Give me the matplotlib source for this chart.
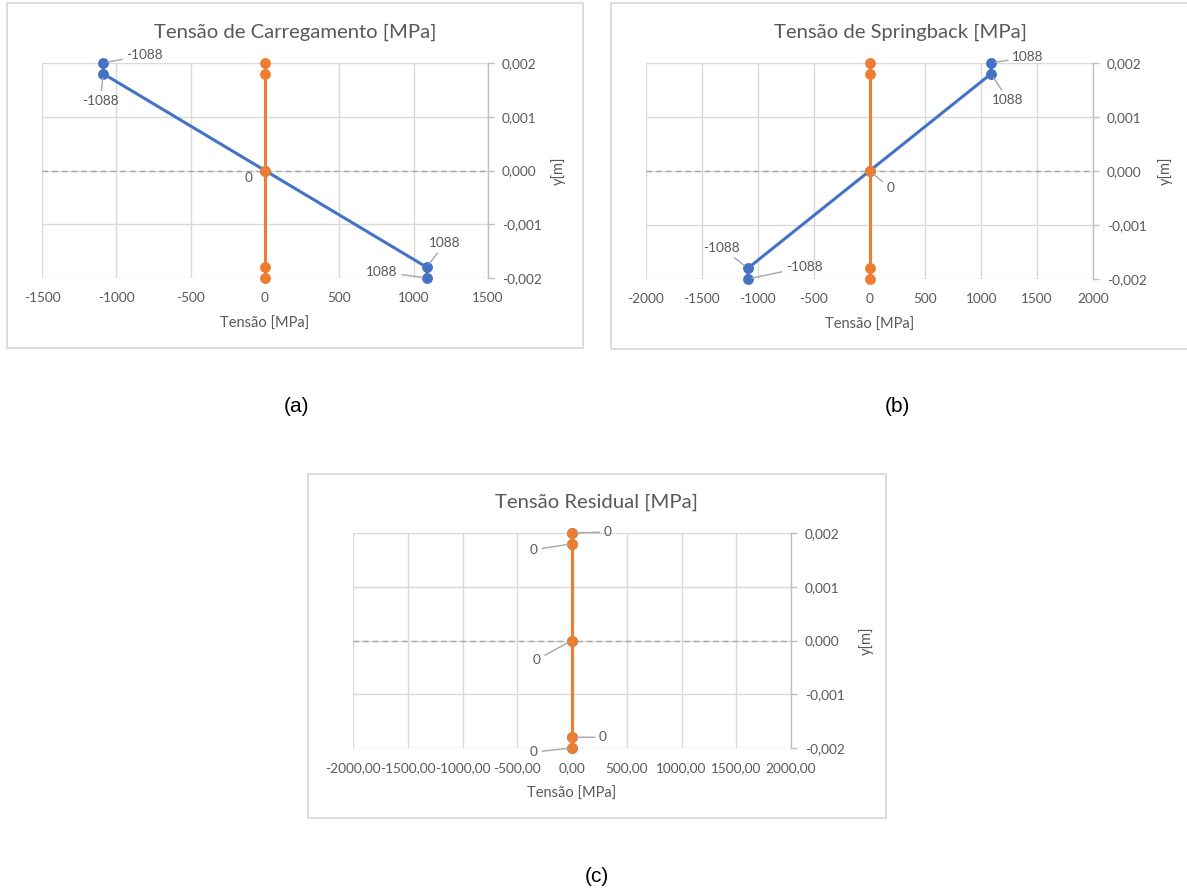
import matplotlib
matplotlib.use("Agg")
import matplotlib.pyplot as plt
from matplotlib.patches import Rectangle
from matplotlib.ticker import FuncFormatter, MultipleLocator

# ---------------- data ----------------
y_pos = [0.002, 0.0018, 0.0, -0.0018, -0.002]
tensao_carregamento = [-1088, -1088, 0, 1088, 1088]
tensao_springback = [1088, 1088, 0, -1088, -1088]
tensao_residual = [0, 0, 0, 0, 0]
linha_neutra = [0, 0, 0, 0, 0]

titles = ["Tensão de Carregamento [MPa]", "Tensão de Springback [MPa]", "Tensão Residual [MPa]"]
xlabel = "Tensão [MPa]"
ylabel = "y[m]"
panel_labels = ["(a)", "(b)", "(c)"]

# ---------------- style ----------------
W, H = 1187, 892
BLUE = "#4472C4"
ORANGE = "#ED7D31"
TXT = "#595959"
GRID = "#d9d9d9"
AXC = "#bfbfbf"
FONT = "Lato"
TICK_FS = 9.8
LAB_FS = 10.5
TITLE_FS = 14.6

plt.rcParams["font.family"] = [FONT, "DejaVu Sans"]

fig = plt.figure(figsize=(W / 100, H / 100), dpi=100)
fig.patch.set_facecolor("white")


def px_rect(x0, y0, x1, y1):
    return [x0 / W, 1 - y1 / H, (x1 - x0) / W, (y1 - y0) / H]


def add_box(x0, y0, x1, y1):
    fig.patches.append(Rectangle((x0 / W, 1 - y1 / H), (x1 - x0) / W, (y1 - y0) / H,
                                 transform=fig.transFigure, fill=False,
                                 edgecolor=GRID, lw=1.3, zorder=0))


def yfmt(v, pos):
    s = f"{v:.3f}"
    if s == "-0.000":
        s = "0.000"
    return s.replace(".", ",")


def setup_axes(rect, xlim, xstep, xfmt, ylab_x, xlab_y):
    ax = fig.add_axes(rect)
    ax.set_xlim(*xlim)
    ax.set_ylim(-0.002, 0.002)
    ax.xaxis.set_major_locator(MultipleLocator(xstep))
    ax.yaxis.set_major_locator(MultipleLocator(0.001))
    ax.xaxis.set_major_formatter(FuncFormatter(xfmt))
    ax.yaxis.set_major_formatter(FuncFormatter(yfmt))
    for s in ["left", "top", "bottom"]:
        ax.spines[s].set_visible(False)
    ax.spines["right"].set_color(AXC)
    ax.spines["right"].set_linewidth(1.0)
    ax.yaxis.tick_right()
    ax.yaxis.set_label_position("right")
    ax.tick_params(axis="y", direction="out", length=4, width=1.0, color=AXC,
                   labelsize=TICK_FS, labelcolor=TXT, pad=6)
    ax.tick_params(axis="x", length=0, labelsize=TICK_FS, labelcolor=TXT, pad=10)
    ax.grid(True, color=GRID, lw=1.0)
    ax.set_axisbelow(True)
    ax.axhline(0, color="#a6a6a6", lw=1.0, ls=(0, (4, 3)), zorder=1)
    ax.set_xlabel(xlabel, fontsize=LAB_FS, color=TXT)
    ax.xaxis.set_label_coords(0.5, xlab_y)
    ax.set_ylabel(ylabel, fontsize=LAB_FS, color=TXT, rotation=90)
    ax.yaxis.set_label_coords(ylab_x, 0.5)
    return ax


def label_points(ax, xs, ys, texts, offsets):
    for x, y, t, (dx, dy, ha, leader) in zip(xs, ys, texts, offsets):
        kw = {}
        if leader:
            kw["arrowprops"] = dict(arrowstyle="-", color="#a6a6a6", lw=1.0,
                                    shrinkA=1, shrinkB=3)
        ax.annotate(t, xy=(x, y), xytext=(dx, dy), textcoords="offset pixels",
                    ha=ha, va="center", fontsize=TICK_FS, color=TXT, zorder=5,
                    annotation_clip=False, **kw)


def int_fmt(v, pos):
    return f"{v:.0f}"


def dec_fmt(v, pos):
    s = f"{v:.2f}"
    if s == "-0.00":
        s = "0.00"
    return s.replace(".", ",")


line_kw = dict(lw=2.2, marker="o", markersize=6.8, clip_on=False)

# ---------------- (a) ----------------
add_box(7, 3, 583, 348)
ax1 = setup_axes(px_rect(42, 63, 488, 278), (-1500, 1500), 500, int_fmt, 1.14, -0.18)
ax1.plot(tensao_carregamento, y_pos, color=BLUE, zorder=3, **line_kw)
ax1.plot(linha_neutra, y_pos, color=ORANGE, zorder=4, **line_kw)
label_points(ax1, tensao_carregamento, y_pos, [f"{v:.0f}" for v in tensao_carregamento],
             [(23, 8, "left", True), (-3, -27, "center", True), (-16, -7, "center", False),
              (18, 24, "center", True), (-29, 6, "right", True)])
fig.text(295 / W, 1 - 32 / H, titles[0], ha="center", va="center", fontsize=TITLE_FS, color=TXT)

# ---------------- (b) ----------------
add_box(611, 3, 1195, 349)
ax2 = setup_axes(px_rect(646, 63, 1093, 279), (-2000, 2000), 500, int_fmt, 1.145, -0.18)
ax2.plot(tensao_springback, y_pos, color=BLUE, zorder=3, **line_kw)
ax2.plot(linha_neutra, y_pos, color=ORANGE, zorder=4, **line_kw)
label_points(ax2, tensao_springback, y_pos, [f"{v:.0f}" for v in tensao_springback],
             [(21, 6, "left", True), (17, -26, "center", True), (21, -17, "center", True),
              (-26, 20, "center", True), (38, 12, "left", True)])
fig.text(900 / W, 1 - 32 / H, titles[1], ha="center", va="center", fontsize=TITLE_FS, color=TXT)

# ---------------- (c) ----------------
add_box(308, 474, 886, 818)
ax3 = setup_axes(px_rect(353, 533, 791, 748), (-2000, 2000), 500, dec_fmt, 1.155, -0.18)
ax3.plot(tensao_residual, y_pos, color=BLUE, zorder=3, **line_kw)
ax3.plot(linha_neutra, y_pos, color=ORANGE, zorder=4, **line_kw)
label_points(ax3, tensao_residual, y_pos, [f"{v:.0f}" for v in tensao_residual],
             [(36, 1, "center", True), (-38, -6, "center", True), (-35, -19, "center", True),
              (31, 0, "center", True), (-38, -4, "center", True)])
fig.text(597 / W, 1 - 502 / H, titles[2], ha="center", va="center", fontsize=TITLE_FS, color=TXT)

# ---------------- panel labels ----------------
for lab, (px, py) in zip(panel_labels, [(297, 407), (897, 407), (597, 876)]):
    fig.text(px / W, 1 - py / H, lab, ha="center", va="center", fontsize=15,
             color="black", family=["Liberation Sans", "DejaVu Sans"])

fig.savefig("out.png", dpi=100, facecolor="white")
